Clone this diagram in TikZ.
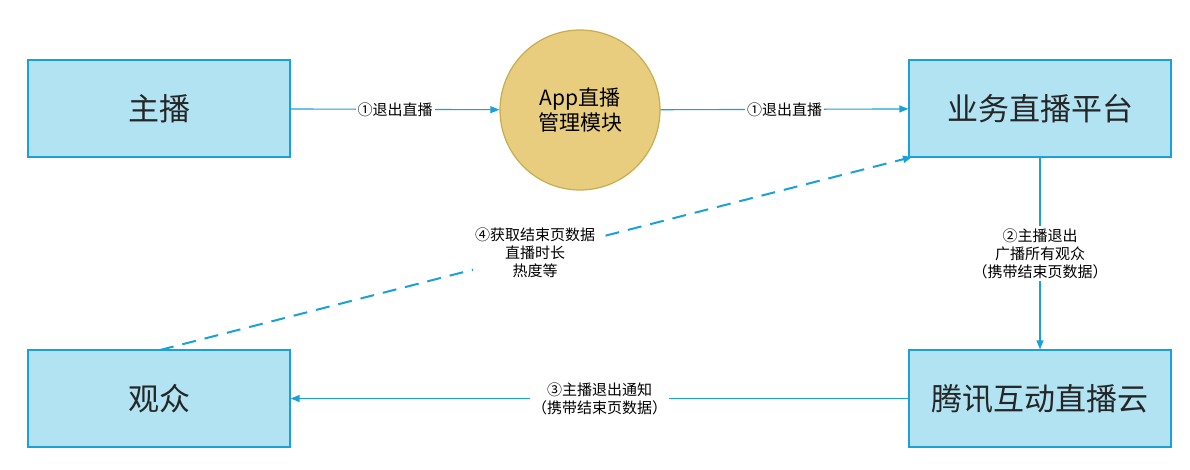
\documentclass[tikz,border=0pt]{standalone}
\usepackage{fontspec}
\setmainfont{Noto Sans CJK SC}
\usetikzlibrary{arrows.meta}
\definecolor{boxfill}{HTML}{B1E3F3}
\definecolor{boxline}{HTML}{1BA1D8}
\definecolor{cfill}{HTML}{E8CD7E}
\definecolor{cline}{HTML}{C8AC50}
\begin{document}
\begin{tikzpicture}[x=1pt,y=-1pt,
  bx/.style={draw=boxline,fill=boxfill,line width=1.2pt,minimum width=262pt,minimum height=97pt,font=\fontsize{31}{35}\selectfont,text=black!85},
  arr/.style={draw=boxline,line width=1.1pt,-{Triangle[length=9pt,width=7pt]}},
  lbl/.style={fill=white,font=\fontsize{15}{18}\selectfont,align=center,inner sep=2pt}]
\useasboundingbox (0,0) rectangle (1190,469);
\node[bx] (zb) at (159,108.5) {主播};
\node[bx] (yw) at (1040,108.5) {业务直播平台};
\node[bx] (gz) at (159,398.5) {观众};
\node[bx] (tx) at (1040,398.5) {腾讯互动直播云};
\node[circle,draw=cline,fill=cfill,line width=1.2pt,minimum size=160pt,align=center,font=\fontsize{21}{25}\selectfont] (app) at (580,110) {App直播\\管理模块};
\draw[arr] (zb) -- node[lbl]{①退出直播} (app);
\draw[arr] (app) -- node[lbl]{①退出直播} (yw);
\draw[arr] (yw) -- node[lbl]{②主播退出\\广播所有观众\\（携带结束页数据）} (tx);
\draw[arr] (tx) -- node[lbl]{③主播退出通知\\（携带结束页数据）} (gz);
\coordinate (ds) at (160,350);
\coordinate (de) at (912,157);
\draw[arr,line width=2pt,dash pattern=on 14pt off 9pt] (ds) -- (de);
\node[lbl] (l4) at (535,253) {④获取结束页数据\\直播时长\\热度等};
\end{tikzpicture}
\end{document}
